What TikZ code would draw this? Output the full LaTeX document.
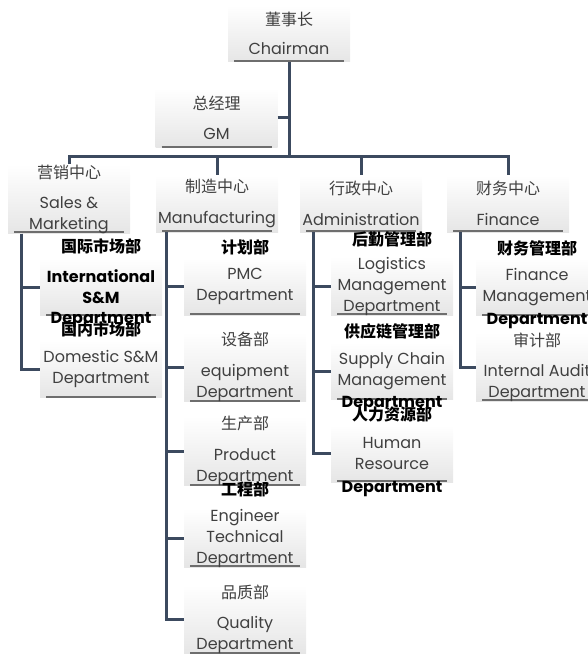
\documentclass[tikz,border=0pt]{standalone}
\usepackage{fontspec}
\setmainfont{Poppins}
\newfontfamily\cjk{Noto Sans CJK SC}
\usetikzlibrary{positioning}
\definecolor{linkblue}{RGB}{60,74,95}
\definecolor{rulegray}{RGB}{110,110,110}

\tikzset{
  unitbox/.style={rectangle,minimum width=122pt,minimum height=57pt,
    inner xsep=1pt,inner ysep=0pt,top color=white,bottom color=black!10,
    align=center,text=black!75,font=\fontsize{16}{21}\selectfont,
    path picture={\draw[rulegray,line width=2pt]
      ([xshift=6pt,yshift=1pt]path picture bounding box.south west) --
      ([xshift=-6pt,yshift=1pt]path picture bounding box.south east);}},
  boldbox/.style={unitbox,text=black,font=\bfseries\fontsize{16}{21}\selectfont},
  cntitle/.style={inner sep=0pt,text=black,label distance=3pt,
    font=\cjk\bfseries\fontsize{16}{18}\selectfont},
  spill/.style={inner sep=0pt,text=black,label distance=-4pt,
    font=\bfseries\fontsize{16}{18}\selectfont},
  link/.style={draw=linkblue,line width=3pt}
}

\begin{document}
\begin{tikzpicture}[x=1pt,y=1pt]
  \useasboundingbox (0,0) rectangle (588,-655);
  % --- top ---
  \node[unitbox] (chair) at (289,-33.5) {{\cjk 董事长}\\[8pt]Chairman};
  \node[unitbox,minimum height=60pt] (gm) at (216.5,-118) {{\cjk 总经理}\\[9pt]GM};
  \coordinate (bus) at (289,-157);
  % --- centres ---
  \node[unitbox] (sales) at (69,-199) {{\cjk 营销中心}\\[9pt]Sales \&\\Marketing};
  \node[unitbox] (manu) at (217,-203.5) {{\cjk 制造中心}\\[10pt]Manufacturing};
  \node[unitbox] (admin) at (361,-203.5) {{\cjk 行政中心}\\[10pt]Administration};
  \node[unitbox] (fin) at (508,-203.5) {{\cjk 财务中心}\\[10pt]Finance};
  % --- sales & marketing ---
  \node[boldbox,label={[cntitle,label distance=4pt]above:国际市场部},
    label={[spill]below:Department}] (intl) at (101,-287) {International\\S\&M};
  \node[unitbox,label={[cntitle]above:国内市场部}] (dom) at (101,-369)
    {Domestic S\&M\\Department};
  % --- manufacturing ---
  \node[unitbox,label={[cntitle]above:计划部}] (pmc) at (245,-286.5)
    {PMC\\Department};
  \node[unitbox] (equip) at (245,-367) {{\cjk 设备部}\\[10pt]equipment\\Department};
  \node[unitbox] (prod) at (245,-451) {{\cjk 生产部}\\[10pt]Product\\Department};
  \node[unitbox,label={[cntitle,label distance=11pt]above:工程部}] (eng) at (245,-538)
    {Engineer\\Technical\\Department};
  \node[unitbox] (qual) at (245,-619.5) {{\cjk 品质部}\\[9pt]Quality\\Department};
  % --- administration ---
  \node[unitbox,label={[cntitle,label distance=9pt]above:后勤管理部}] (logi) at (392,-286)
    {Logistics\\Management\\Department};
  \node[unitbox,label={[cntitle]above:供应链管理部},
    label={[spill]below:Department}] (supply) at (392,-371) {Supply Chain\\Management};
  \node[unitbox,label={[cntitle,label distance=2pt]above:人力资源部},
    label={[spill,label distance=-1pt]below:Department}] (hr) at (392,-453.5)
    {Human\\Resource};
  % --- finance ---
  \node[unitbox,label={[cntitle,label distance=2pt]above:财务管理部},
    label={[spill,label distance=-3pt]below:Department}] (finm) at (537,-287)
    {Finance\\Management};
  \node[unitbox] (audit) at (537,-367) {{\cjk 审计部}\\[9pt]Internal Audit\\Department};

  % connectors
  \draw[link] (chair.south) -- (bus);
  \draw[link] (gm.east) -- (gm.east -| bus);
  \draw[link] (sales.north) |- (bus) -| (fin.north);
  \draw[link] (manu.north) -- (manu.north |- bus);
  \draw[link] (admin.north) -- (admin.north |- bus);
  \coordinate (sales-spine) at ([xshift=14pt]sales.south west);
  \coordinate (manu-spine) at ([xshift=11pt]manu.south west);
  \coordinate (admin-spine) at ([xshift=14pt]admin.south west);
  \coordinate (fin-spine) at ([xshift=14pt]fin.south west);
  \draw[link] (sales-spine) |- (intl.west);
  \draw[link] (sales-spine) |- (dom.west);
  \draw[link] (manu-spine) |- (pmc.west);
  \draw[link] (manu-spine) |- (equip.west);
  \draw[link] (manu-spine) |- (prod.west);
  \draw[link] (manu-spine) |- (eng.west);
  \draw[link] (manu-spine) |- (qual.west);
  \draw[link] (admin-spine) |- (logi.west);
  \draw[link] (admin-spine) |- (supply.west);
  \draw[link] (admin-spine) |- (hr.west);
  \draw[link] (fin-spine) |- (finm.west);
  \draw[link] (fin-spine) |- (audit.west);
\end{tikzpicture}
\end{document}
